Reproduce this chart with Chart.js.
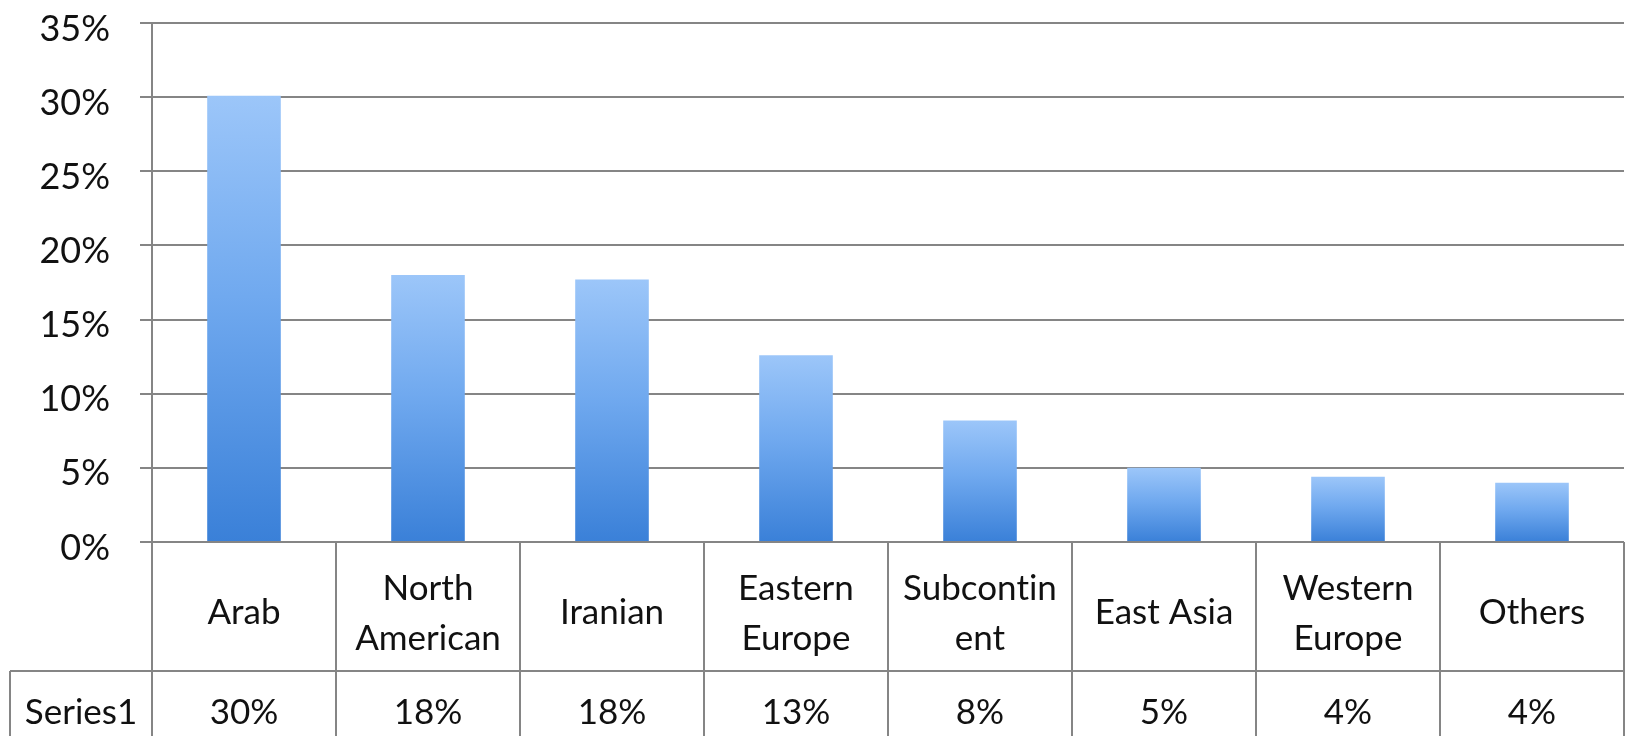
<!DOCTYPE html>
<html>
<head>
<meta charset="utf-8">
<script src="https://cdn.jsdelivr.net/npm/chart.js@4.4.1/dist/chart.umd.min.js"></script>
<style>
  html, body { margin: 0; padding: 0; background: #fff; }
  #wrap { width: 1627px; height: 736px; }
</style>
</head>
<body>
<div id="wrap"><canvas id="chart"></canvas></div>
<script>
// origin groups, share of total
const categories = [["Arab"], ["North", "American"], ["Iranian"], ["Eastern", "Europe"], ["Subcontin", "ent"], ["East Asia"], ["Western", "Europe"], ["Others"]];
const seriesName = "Series1";
const shares = [30.1, 18.0, 17.7, 12.6, 8.2, 5.0, 4.4, 4.0];
const yMax = 35;
const yStep = 5;

const FONT = "Lato, 'Open Sans', sans-serif";
const GRID = "#858585";
const INK = "#111";
const TABLE_ROW = 671; // top of the Series1 row

// per-bar vertical gradient, light at the top, deeper blue at the base
function barFill(context) {
  const chart = context.chart;
  const y = chart.scales.y;
  if (!y || !chart.chartArea) return "#6aa6ee";
  const v = context.raw;
  const top = y.getPixelForValue(v);
  const base = y.getPixelForValue(0);
  const g = chart.ctx.createLinearGradient(0, top, 0, base);
  g.addColorStop(0, "#9cc6f9");
  g.addColorStop(0.45, "#70a9ef");
  g.addColorStop(1, "#3a80d8");
  return g;
}

// Excel-style data table under the plot
const dataTable = {
  id: "dataTable",
  afterDraw(chart) {
    const { ctx, chartArea, scales: { x } } = chart;
    const n = categories.length;
    const top = chartArea.bottom;
    const bottom = chart.height;
    ctx.save();
    ctx.strokeStyle = GRID;
    ctx.lineWidth = 2;
    ctx.beginPath();
    for (let i = 0; i <= n; i++) {
      const px = Math.round(x.getPixelForValue(i - 0.5));
      ctx.moveTo(px, top);
      ctx.lineTo(px, bottom);
    }
    ctx.moveTo(10, TABLE_ROW);
    ctx.lineTo(chartArea.right, TABLE_ROW);
    ctx.moveTo(10, TABLE_ROW);
    ctx.lineTo(10, bottom);
    ctx.stroke();

    ctx.fillStyle = INK;
    ctx.font = "35px " + FONT;
    ctx.textRendering = "optimizeSpeed"; // no "ti" ligature
    ctx.textAlign = "center";
    ctx.textBaseline = "alphabetic";
    categories.forEach((lines, i) => {
      const cx = x.getPixelForValue(i);
      if (lines.length === 1) {
        ctx.fillText(lines[0], cx, 624);
      } else {
        ctx.fillText(lines[0], cx, 600);
        ctx.fillText(lines[1], cx, 650);
      }
      ctx.fillText(Math.round(shares[i]) + "%", cx, 724);
    });
    ctx.fillText(seriesName, (10 + chartArea.left) / 2, 724);
    ctx.restore();
  }
};

new Chart(document.getElementById("chart"), {
  type: "bar",
  data: {
    labels: categories,
    datasets: [{
      label: seriesName,
      data: shares,
      backgroundColor: barFill,
      borderWidth: 0,
      barPercentage: 0.4,
      categoryPercentage: 1
    }]
  },
  options: {
    responsive: true,
    maintainAspectRatio: false,
    animation: false,
    layout: { padding: { top: 23, right: 3, bottom: 736 - 542, left: 0 } },
    plugins: {
      legend: { display: false },
      tooltip: { enabled: false }
    },
    scales: {
      x: {
        display: false,
        offset: true
      },
      y: {
        min: 0,
        max: yMax,
        afterFit(scale) {
          scale.width = 152;
          scale.paddingTop = 0;
          scale.paddingBottom = 0;
        },
        border: { display: true, color: GRID, width: 2 },
        grid: {
          color: GRID,
          lineWidth: 2,
          tickLength: 12,
          tickColor: GRID
        },
        ticks: {
          stepSize: yStep,
          padding: 30,
          labelOffset: 6,
          color: INK,
          font: { family: FONT, size: 36 },
          callback: v => v + "%"
        }
      }
    }
  },
  plugins: [dataTable]
});
</script>
</body>
</html>
